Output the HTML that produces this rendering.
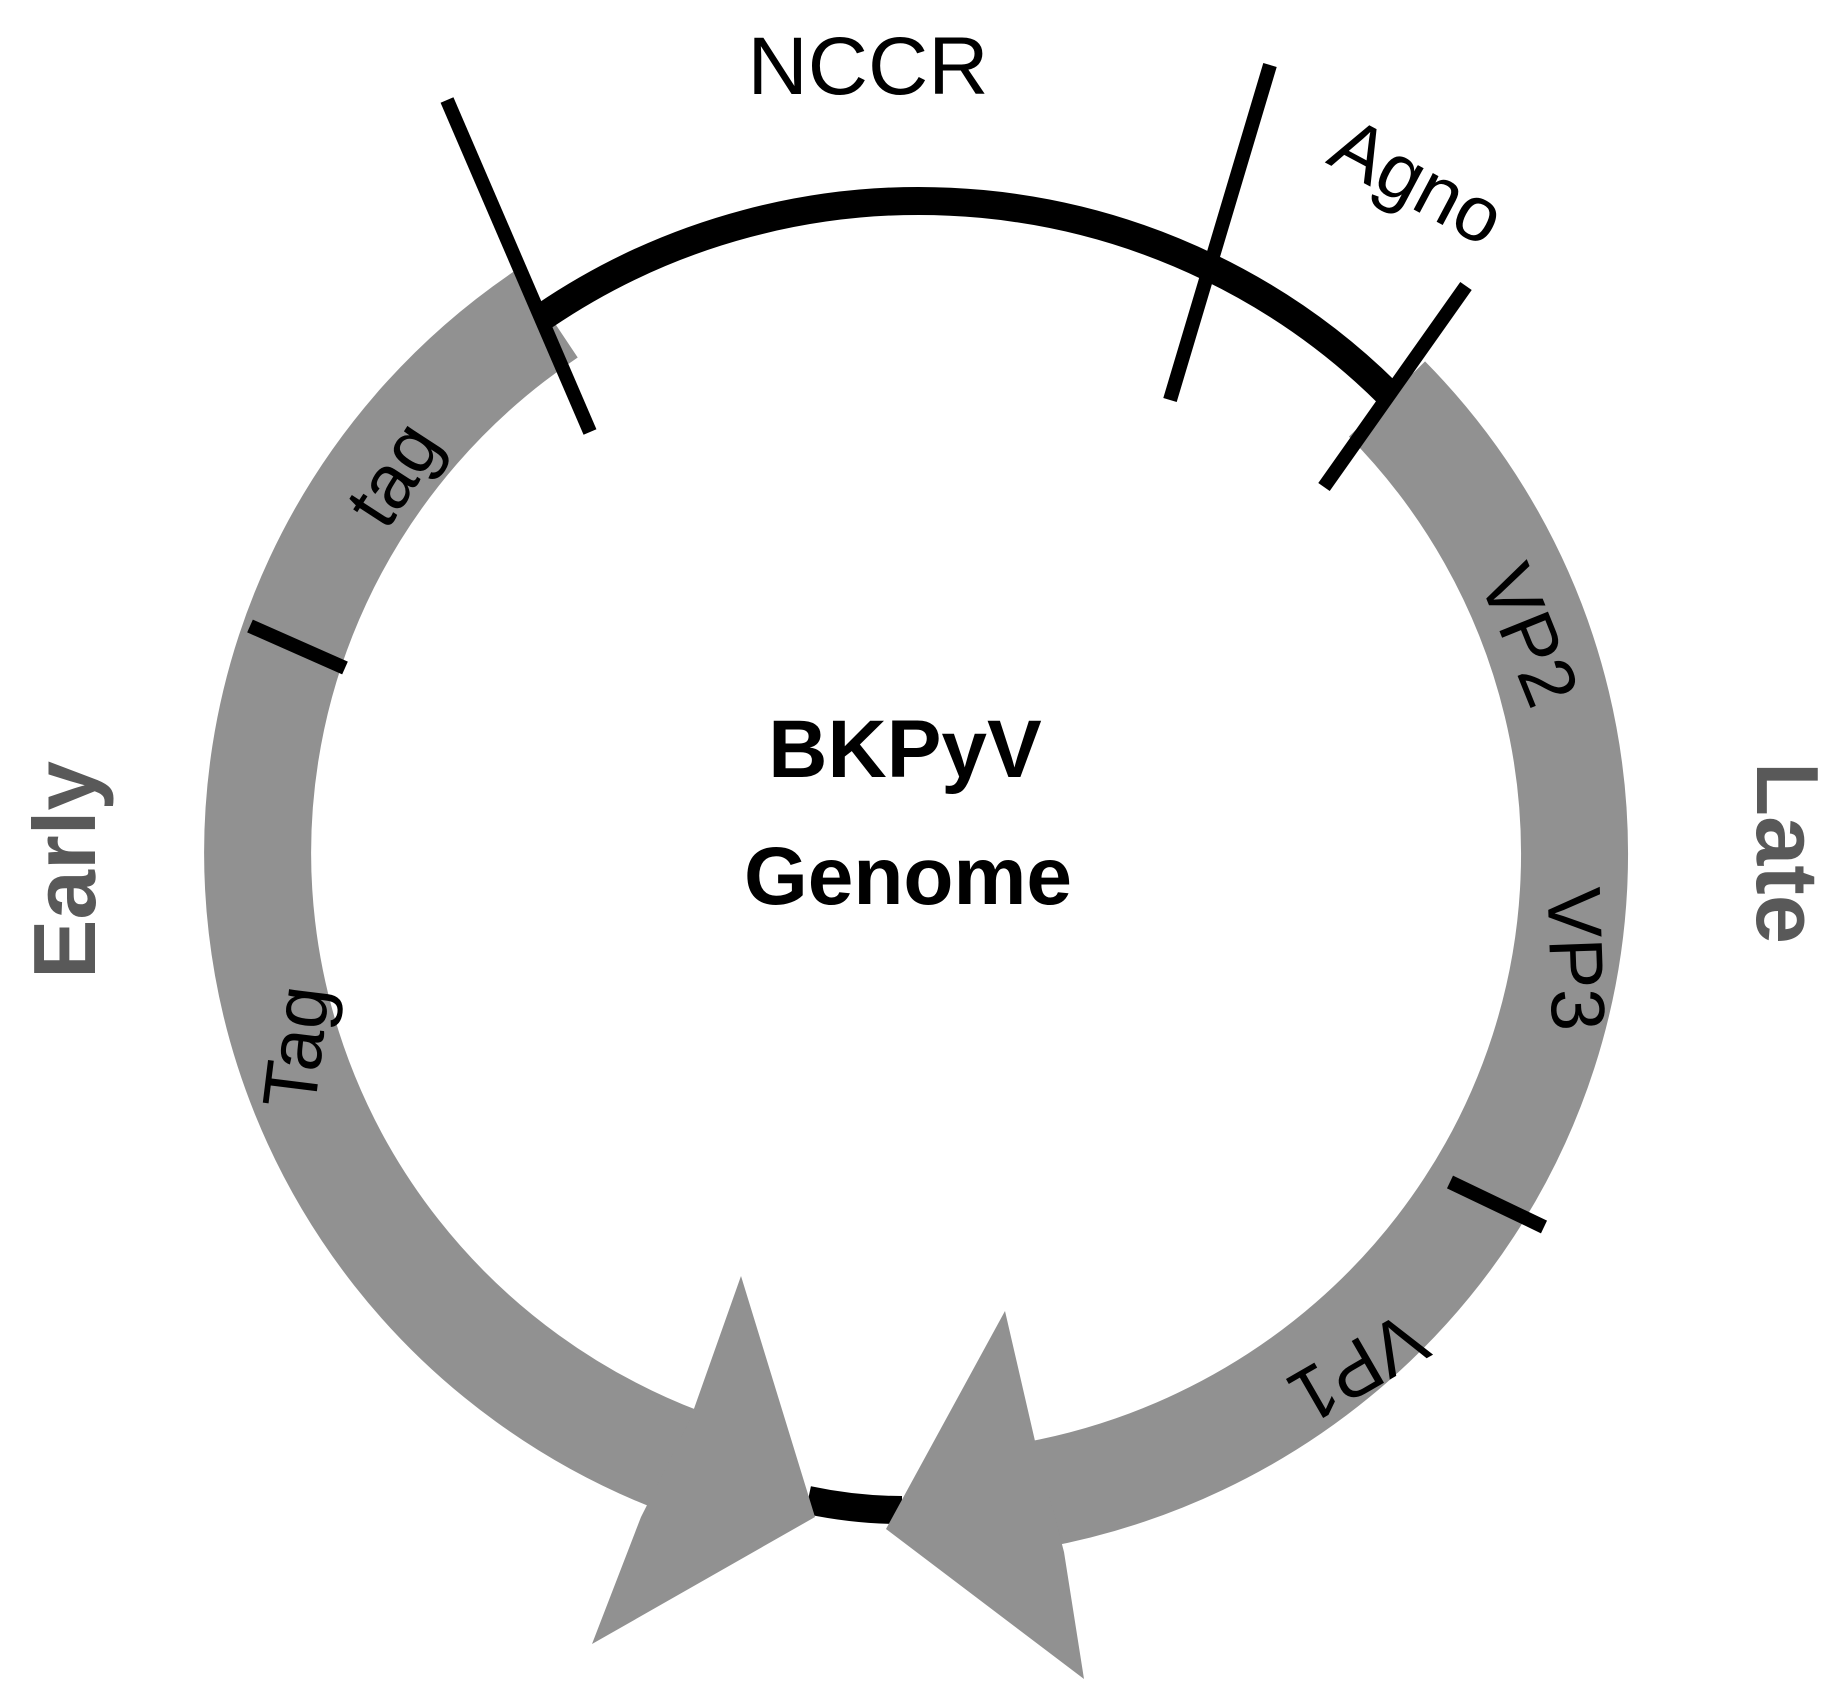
<!DOCTYPE html>
<html><head><meta charset="utf-8"><style>html,body{margin:0;padding:0;background:#fff}svg{display:block}</style></head>
<body>
<svg width="1844" height="1702" viewBox="0 0 1844 1702" xmlns="http://www.w3.org/2000/svg" font-family="Liberation Sans, sans-serif">
<rect width="1844" height="1702" fill="#fff"/>
<path d="M 682.1 1461.7 A 661 652 0 0 1 548 313" fill="none" stroke="#919191" stroke-width="107"/>
<path d="M 1387 399 A 661 652 0 0 1 1033.8 1495.1" fill="none" stroke="#919191" stroke-width="107"/>
<path d="M 544.6 315.7 A 661 652 0 0 1 1390.5 396" fill="none" stroke="#000" stroke-width="28"/>
<path d="M 808 1500 Q 855 1510 902 1510" fill="none" stroke="#000" stroke-width="28"/>
<polygon points="741,1276 815,1517 592,1644 641,1517 690,1420" fill="#919191"/>
<polygon points="1005,1311 1035,1441 1064,1552 1084,1679 886,1529" fill="#919191"/>
<g stroke="#000" stroke-width="14">
<line x1="447" y1="100" x2="590" y2="432"/>
<line x1="250" y1="626" x2="345" y2="668"/>
<line x1="1270" y1="65" x2="1170" y2="400"/>
<line x1="1466" y1="286" x2="1324" y2="487"/>
<line x1="1450" y1="1182" x2="1544" y2="1227"/>
</g>
<text x="868" y="94" font-size="82" text-anchor="middle" textLength="241" lengthAdjust="spacingAndGlyphs">NCCR</text>
<text transform="translate(1405,205) rotate(28)" font-size="78" text-anchor="middle">Agno</text>
<text transform="translate(415,488) rotate(-57)" font-size="76" text-anchor="middle">tag</text>
<text transform="translate(322,1050) rotate(-83)" font-size="76" text-anchor="middle">Tag</text>
<text transform="translate(1505,645) rotate(68)" font-size="76" text-anchor="middle">VP2</text>
<text transform="translate(1550,960) rotate(88)" font-size="76" text-anchor="middle">VP3</text>
<text transform="translate(1345,1345) rotate(150)" font-size="76" text-anchor="middle">VP1</text>
<text x="905" y="777" font-size="82" font-weight="bold" text-anchor="middle">BKPyV</text>
<text x="908" y="904" font-size="82" font-weight="bold" text-anchor="middle">Genome</text>
<text transform="translate(95,870) rotate(-90)" font-size="88" font-weight="bold" fill="#595959" text-anchor="middle" textLength="218" lengthAdjust="spacingAndGlyphs">Early</text>
<text transform="translate(1757,853) rotate(90)" font-size="88" font-weight="bold" fill="#595959" text-anchor="middle" textLength="182" lengthAdjust="spacingAndGlyphs">Late</text>
</svg>
</body></html>
